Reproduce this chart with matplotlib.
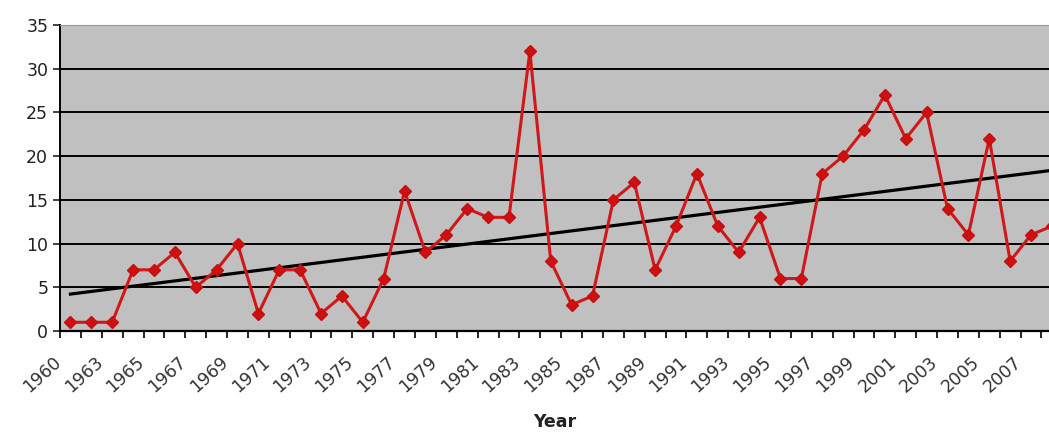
import matplotlib.pyplot as plt
import matplotlib.transforms as mtransforms
import numpy as np

# years on the category axis (one year is missing after 1960)
years = [1960, 1962] + list(range(1963, 2009))
values = [1, 1, 1, 7, 7, 9, 5, 7, 10, 2,
          7, 7, 2, 4, 1, 6, 16, 9, 11, 14,
          13, 13, 32, 8, 3, 4, 15, 17, 7, 12,
          18, 12, 9, 13, 6, 6, 18, 20, 23, 27,
          22, 25, 14, 11, 22, 8, 11, 12]
tick_labels = ["1960", "1963", "1965", "1967", "1969", "1971", "1973", "1975",
               "1977", "1979", "1981", "1983", "1985", "1987", "1989", "1991",
               "1993", "1995", "1997", "1999", "2001", "2003", "2005", "2007"]

x = np.arange(len(years))
y = np.array(values)

fig = plt.figure(figsize=(10.49, 4.32), dpi=100)
ax = fig.add_axes([60 / 1049, 101 / 432, 989 / 1049, 306 / 432])
ax.set_facecolor("#c0c0c0")

# horizontal grid
for g in range(5, 35, 5):
    ax.axhline(g, color="black", lw=1.4, zorder=1)

# linear trend line
k, b = np.polyfit(x, y, 1)
xt = np.array([0, len(years)])
ax.plot(xt, k * xt + b + 0.3, color="black", lw=2.3, zorder=2)

ax.plot(x, y, color="#d01818", lw=2.2, marker="D", markersize=6.5,
        markerfacecolor="#d01010", markeredgecolor="#c01010", zorder=3)

ax.set_xlim(-0.48, 46.86)
ax.set_ylim(0, 35)
ax.set_yticks(range(0, 36, 5))
ax.tick_params(axis="y", labelsize=12.5, colors="#222222", length=5, width=1.2)

# category boundary ticks and every other year label
ax.set_xticks(np.arange(-0.5, 47, 1), minor=True)
ax.set_xticks(x[::2][:len(tick_labels)])
ax.set_xticklabels(tick_labels, rotation=42, ha="right", rotation_mode="anchor",
                   fontsize=12.5, color="#333333")
ax.tick_params(axis="x", which="major", length=0, pad=16)
ax.tick_params(axis="x", which="minor", length=5, width=1.2, color="black")
shift = mtransforms.ScaledTranslation(-18 / 100, 0, fig.dpi_scale_trans)
for lbl in ax.get_xticklabels():
    lbl.set_transform(lbl.get_transform() + shift)

ax.spines["left"].set_color("black")
ax.spines["left"].set_linewidth(1.4)
ax.spines["bottom"].set_color("black")
ax.spines["bottom"].set_linewidth(1.6)
ax.spines["top"].set_color("#999999")
ax.spines["right"].set_visible(False)

ax.set_xlabel("Year", fontsize=12.5, fontweight="bold", color="#222222", labelpad=12)

fig.savefig("out.png", dpi=100)
